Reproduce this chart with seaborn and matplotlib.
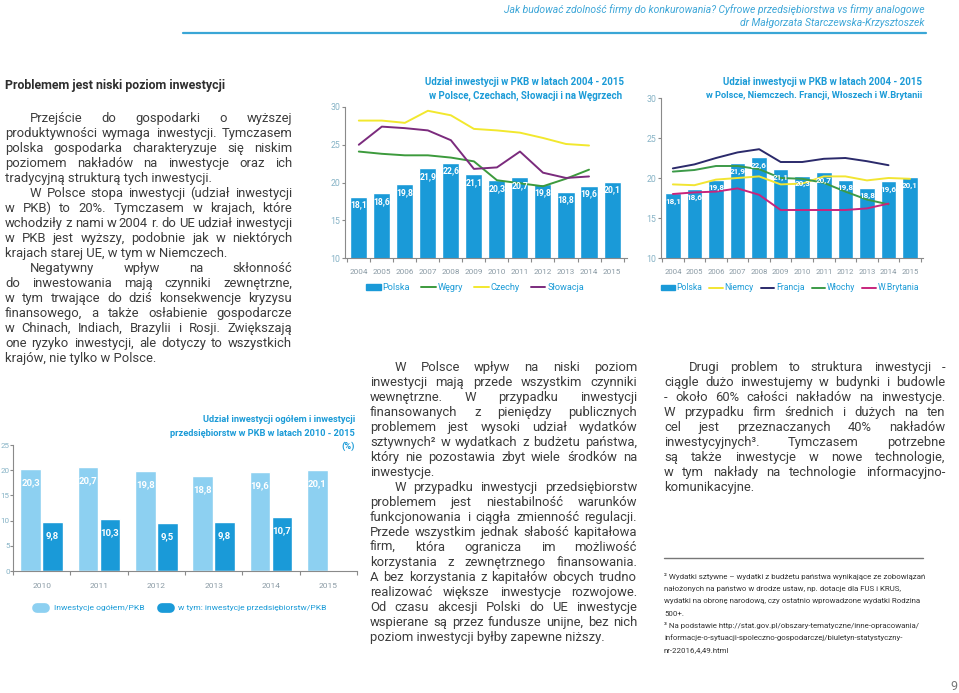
import matplotlib
matplotlib.use('Agg')
import matplotlib.pyplot as plt
import numpy as np
import pandas as pd
import seaborn as sns
from matplotlib.lines import Line2D
from matplotlib.patches import Patch

# dane - wykres 1 i 2
lata = [str(r) for r in range(2004, 2016)]
polska = [18.1, 18.6, 19.8, 21.9, 22.6, 21.1, 20.3, 20.7, 19.8, 18.8, 19.6, 20.1]
wegry = [24.1, 23.8, 23.6, 23.6, 23.3, 22.8, 20.3, 19.9, 19.5, 20.5, 21.7]
czechy = [28.2, 28.2, 27.9, 29.5, 28.9, 27.1, 26.9, 26.6, 25.9, 25.1, 24.9]
slowacja = [25.0, 27.4, 27.2, 26.9, 25.6, 21.8, 22.0, 24.1, 21.3, 20.6, 20.8]
niemcy = [19.2, 19.1, 19.8, 20.0, 20.2, 19.2, 19.3, 20.2, 20.2, 19.7, 20.0, 19.9]
francja = [21.2, 21.7, 22.5, 23.2, 23.6, 22.0, 22.0, 22.4, 22.5, 22.1, 21.6]
wlochy = [20.8, 21.0, 21.5, 21.5, 21.1, 20.0, 19.9, 19.4, 18.3, 17.3, 16.7]
wbrytania = [18.0, 18.2, 18.3, 18.7, 17.9, 16.0, 16.0, 16.0, 16.0, 16.2, 16.8]

# dane - wykres 3
lata_c = [str(r) for r in range(2010, 2016)]
ogolem = [20.3, 20.7, 19.8, 18.8, 19.6, 20.1]
przeds = [9.8, 10.3, 9.5, 9.8, 10.7, np.nan]

W, H = 959, 693
BAR = '#1a9ad8'
LIGHT = '#8dd0f1'
TITLE = '#1b9bd7'
SPINE = '#8a8a8a'
YT = '#86b3c6'
XT = '#8b9ba5'
TXT = '#3c3c3c'

sns.set_theme(style='white')
plt.rcParams['font.family'] = ['Roboto', 'DejaVu Sans']

fig = plt.figure(figsize=(W / 100, H / 100), dpi=100)
renderer = fig.canvas.get_renderer()


def rect(x0, y0, x1, y1):
    return [x0 / W, 1 - y1 / H, (x1 - x0) / W, (y1 - y0) / H]


def fx(x):
    return x / W


def fy(y):
    return 1 - y / H


def style_axes(ax, yt, xsize=6, ysize=6.3, xpad=2):
    ax.set_xlabel('')
    ax.set_ylabel('')
    sns.despine(ax=ax)
    for s in ['left', 'bottom']:
        ax.spines[s].set_color(SPINE)
        ax.spines[s].set_linewidth(0.8)
    ax.set_yticks(yt)
    ax.tick_params(axis='y', left=True, length=2.5, width=0.8, color=SPINE,
                   labelcolor=YT, labelsize=ysize, pad=1)
    ax.tick_params(axis='x', which='major', bottom=False, labelcolor=XT, labelsize=xsize, pad=xpad)
    n = len(ax.get_xticks())
    ax.set_xticks(np.arange(-0.5, n, 1), minor=True)
    ax.tick_params(axis='x', which='minor', bottom=True, length=3, width=0.8, color=SPINE)


def label_bars(ax, container, off=-8, size=6.2):
    for p in container.patches:
        h = p.get_height()
        if np.isnan(h):
            continue
        ax.annotate(f'{h:.1f}'.replace('.', ','), (p.get_x() + p.get_width() / 2, h),
                    xytext=(0, off), textcoords='offset points', ha='center', va='center',
                    color='white', fontsize=size, fontweight='bold')


# wykres 1
axA = fig.add_axes(rect(345, 107, 627, 258))
sns.barplot(x=lata, y=polska, color=BAR, saturation=1, width=0.74, ax=axA)
label_bars(axA, axA.containers[0], off=-6)
linieA = [(wegry, '#3c9a3c', 'Węgry'), (czechy, '#f2e82e', 'Czechy'), (slowacja, '#7b2b7d', 'Słowacja')]
for vals, col, name in linieA:
    sns.lineplot(x=list(range(len(vals))), y=vals, color=col, lw=1.4, ax=axA, legend=False)
axA.set_ylim(10, 30)
axA.set_xlim(-0.6, 11.65)
style_axes(axA, [10, 15, 20, 25, 30], xsize=5.9)
fig.text(fx(624), fy(82), 'Udział inwestycji w PKB w latach 2004 - 2015', ha='right', va='center',
         color=TITLE, fontsize=7, fontweight='bold')
fig.text(fx(622), fy(96), 'w Polsce, Czechach, Słowacji i na Węgrzech', ha='right', va='center',
         color=TITLE, fontsize=7, fontweight='bold')
hA = [Patch(color=BAR, label='Polska')] + [Line2D([], [], color=c, lw=1.4, label=n) for _, c, n in linieA]
fig.legend(handles=hA, loc='center', bbox_to_anchor=(fx(475), fy(288)), ncol=4, frameon=False,
           labelcolor=TITLE, prop={'size': 6.6}, handlelength=1.6,
           handleheight=0.6, handletextpad=0.2, columnspacing=1.2)

# wykres 2
axB = fig.add_axes(rect(661, 98, 923, 258))
sns.barplot(x=lata, y=polska, color=BAR, saturation=1, width=0.72, ax=axB)
label_bars(axB, axB.containers[0], off=-6, size=5.9)
linieB = [(niemcy, '#f2e532', 'Niemcy'), (francja, '#2b2a6b', 'Francja'),
          (wlochy, '#3c9a48', 'Włochy'), (wbrytania, '#c8257c', 'W.Brytania')]
for vals, col, name in linieB:
    sns.lineplot(x=list(range(len(vals))), y=vals, color=col, lw=1.4, ax=axB, legend=False)
axB.set_ylim(10, 30)
axB.set_xlim(-0.55, 11.6)
style_axes(axB, [10, 15, 20, 25, 30], xsize=5.6)
fig.text(fx(922), fy(82), 'Udział inwestycji w PKB w latach 2004 - 2015', ha='right', va='center',
         color=TITLE, fontsize=7, fontweight='bold')
fig.text(fx(922), fy(96), 'w Polsce, Niemczech. Francji, Włoszech i W.Brytanii', ha='right', va='center',
         color=TITLE, fontsize=6.7, fontweight='bold')
hB = [Patch(color=BAR, label='Polska')] + [Line2D([], [], color=c, lw=1.4, label=n) for _, c, n in linieB]
fig.legend(handles=hB, loc='center', bbox_to_anchor=(fx(790), fy(288)), ncol=5, frameon=False,
           labelcolor=TITLE, prop={'size': 6.2}, handlelength=1.6,
           handleheight=0.6, handletextpad=0.2, columnspacing=0.8)

# wykres 3
axC = fig.add_axes(rect(13, 445, 357, 571))
dfC = pd.DataFrame({
    'rok': lata_c * 2,
    'wartosc': ogolem + przeds,
    'seria': ['Inwestycje ogółem/PKB'] * 6 + ['w tym: inwestycje przedsiębiorstw/PKB'] * 6,
})
sns.barplot(data=dfC, x='rok', y='wartosc', hue='seria', palette=[LIGHT, BAR], saturation=1,
            width=0.76, gap=0.05, ax=axC, legend=False)
for cont in axC.containers:
    label_bars(axC, cont, off=-10, size=6.8)
axC.set_ylim(0, 25)
axC.set_xlim(-0.5, 5.5)
style_axes(axC, [0, 5, 10, 15, 20, 25], xsize=6, ysize=5.8, xpad=3)
axC.tick_params(axis='y', length=2, pad=0.5)
for i, t in enumerate(['Udział inwestycji ogółem i inwestycji',
                       'przedsiębiorstw w PKB w latach 2010 - 2015', '(%)']):
    fig.text(fx(355), fy(420 + 13 * i), t, ha='right', va='center', color=TITLE,
             fontsize=6.7, fontweight='bold')
hC = [Line2D([], [], color=LIGHT, lw=7, solid_capstyle='round', label='Inwestycje ogółem/PKB'),
      Line2D([], [], color=BAR, lw=7, solid_capstyle='round', label='w tym: inwestycje przedsiębiorstw/PKB')]
fig.legend(handles=hC, loc='center', bbox_to_anchor=(fx(182), fy(608)), ncol=2, frameon=False,
           labelcolor=TITLE, prop={'size': 6.1}, handlelength=1.0,
           handletextpad=1.0, columnspacing=2.0)

# naglowek strony
fig.text(fx(925), fy(10), 'Jak budować zdolność firmy do konkurowania? Cyfrowe przedsiębiorstwa vs firmy analogowe',
         ha='right', va='center', color='#3fa7d8', fontsize=7.5, style='italic')
fig.text(fx(925), fy(23), 'dr Małgorzata Starczewska-Krzysztoszek',
         ha='right', va='center', color='#3fa7d8', fontsize=7.5, style='italic')
fig.add_artist(Line2D([fx(183), fx(926)], [fy(33), fy(33)], color='#3aa6d6', lw=1.6))


# tekst wyjustowany
def akapity(pars, x0, x1, y0, step, size=9.4):
    y = y0
    for par in pars:
        for k, line in enumerate(par):
            left = x0 + (25 if k == 0 else 0)
            words = line.split(' ')
            base = fy(y + 4)
            if k == len(par) - 1 or len(words) == 1:
                fig.text(fx(left), base, line, ha='left', va='baseline', color=TXT, fontsize=size)
            else:
                arts = [fig.text(0, base, w, ha='left', va='baseline', color=TXT, fontsize=size) for w in words]
                widths = [a.get_window_extent(renderer).width for a in arts]
                gap = (x1 - left - sum(widths)) / (len(words) - 1)
                pos = left
                for a, wd in zip(arts, widths):
                    a.set_x(fx(pos))
                    pos += wd + gap
            y += step


fig.text(fx(5), fy(86), 'Problemem jest niski poziom inwestycji', ha='left', va='center',
         color='#2e2e2e', fontsize=8.9, fontweight='bold')

tekst_lewy = [
    ['Przejście do gospodarki o wyższej',
     'produktywności wymaga inwestycji. Tymczasem',
     'polska gospodarka charakteryzuje się niskim',
     'poziomem nakładów na inwestycje oraz ich',
     'tradycyjną strukturą tych inwestycji.'],
    ['W Polsce stopa inwestycji (udział inwestycji',
     'w PKB) to 20%. Tymczasem w krajach, które',
     'wchodziły z nami w 2004 r. do UE udział inwestycji',
     'w PKB jest wyższy, podobnie jak w niektórych',
     'krajach starej UE, w tym w Niemczech.'],
    ['Negatywny wpływ na skłonność',
     'do inwestowania mają czynniki zewnętrzne,',
     'w tym trwające do dziś konsekwencje kryzysu',
     'finansowego, a także osłabienie gospodarcze',
     'w Chinach, Indiach, Brazylii i Rosji. Zwiększają',
     'one ryzyko inwestycji, ale dotyczy to wszystkich',
     'krajów, nie tylko w Polsce.'],
]
tekst_srodek = [
    ['W Polsce wpływ na niski poziom',
     'inwestycji mają przede wszystkim czynniki',
     'wewnętrzne. W przypadku inwestycji',
     'finansowanych z pieniędzy publicznych',
     'problemem jest wysoki udział wydatków',
     'sztywnych² w wydatkach z budżetu państwa,',
     'który nie pozostawia zbyt wiele środków na',
     'inwestycje.'],
    ['W przypadku inwestycji przedsiębiorstw',
     'problemem jest niestabilność warunków',
     'funkcjonowania i ciągła zmienność regulacji.',
     'Przede wszystkim jednak słabość kapitałowa',
     'firm, która ogranicza im możliwość',
     'korzystania z zewnętrznego finansowania.',
     'A bez korzystania z kapitałów obcych trudno',
     'realizować większe inwestycje rozwojowe.',
     'Od czasu akcesji Polski do UE inwestycje',
     'wspierane są przez fundusze unijne, bez nich',
     'poziom inwestycji byłby zapewne niższy.'],
]
tekst_prawy = [
    ['Drugi problem to struktura inwestycji -',
     'ciągle dużo inwestujemy w budynki i budowle',
     '- około 60% całości nakładów na inwestycje.',
     'W przypadku firm średnich i dużych na ten',
     'cel jest przeznaczanych 40% nakładów',
     'inwestycyjnych³. Tymczasem potrzebne',
     'są także inwestycje w nowe technologie,',
     'w tym nakłady na technologie informacyjno-',
     'komunikacyjne.'],
]
akapity(tekst_lewy, 5, 292, 118, 15)
akapity(tekst_srodek, 370, 637, 367, 15)
akapity(tekst_prawy, 664, 945, 367, 15)

# przypisy
fig.add_artist(Line2D([fx(664), fx(923)], [fy(558), fy(558)], color='#777777', lw=1.0))
przypisy = ['² Wydatki sztywne – wydatki z budżetu państwa wynikające ze zobowiązań',
            'nałożonych na państwo w drodze ustaw, np. dotacje dla FUS i KRUS,',
            'wydatki na obronę narodową, czy ostatnio wprowadzone wydatki Rodzina',
            '500+.',
            '³ Na podstawie http://stat.gov.pl/obszary-tematyczne/inne-opracowania/',
            'informacje-o-sytuacji-spoleczno-gospodarczej/biuletyn-statystyczny-',
            'nr-22016,4,49.html']
for i, t in enumerate(przypisy):
    fig.text(fx(664), fy(577 + 12.2 * i), t, ha='left', va='center', color='#333333',
             fontsize=5.7)

fig.text(fx(954), fy(686), '9', ha='center', va='center', color='#777777', fontsize=9)

fig.savefig('out.png', dpi=100)
